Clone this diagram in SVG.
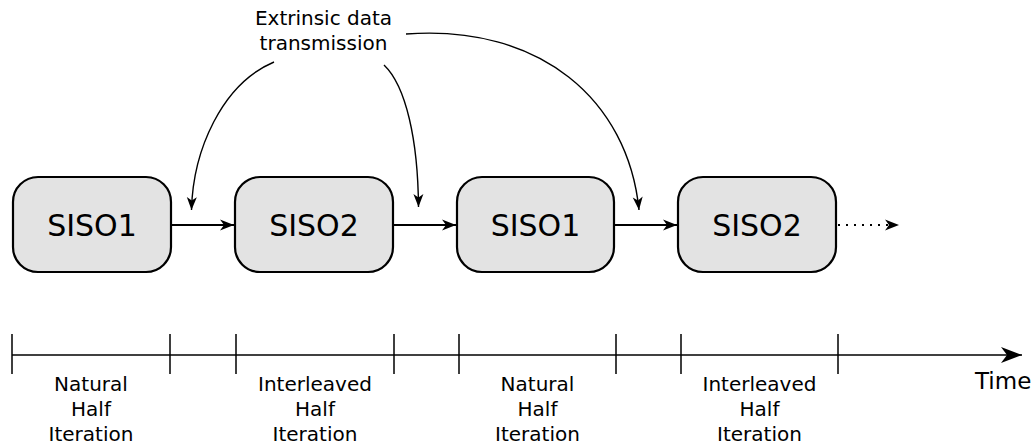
<svg xmlns="http://www.w3.org/2000/svg" width="1035" height="447" viewBox="0 0 1035 447">
<defs>
<style>
.box{fill:#e3e3e3;stroke:#000;stroke-width:2.2}
.lbl{font-family:"DejaVu Sans",sans-serif;font-size:30px;text-anchor:middle;fill:#000}
.txt{font-family:"DejaVu Sans",sans-serif;font-size:20px;text-anchor:middle;fill:#000}
.flow{fill:none;stroke:#000;stroke-width:2.2}
.curve{fill:none;stroke:#000;stroke-width:1.4}
.axis{fill:none;stroke:#000;stroke-width:1.5}
</style>
<marker id="ah" markerUnits="userSpaceOnUse" markerWidth="18" markerHeight="14" viewBox="-16 -7 18 14" refX="0" refY="0" orient="auto">
<path d="M0,0 L-14,-5.5 L-10,0 L-14,5.5 Z" fill="#000"/>
</marker>
<marker id="ahs" markerUnits="userSpaceOnUse" markerWidth="16" markerHeight="14" viewBox="-14 -7 16 14" refX="0" refY="0" orient="auto">
<path d="M0,0 L-13,-5 L-9.5,0 L-13,5 Z" fill="#000"/>
</marker>
<marker id="ahl" markerUnits="userSpaceOnUse" markerWidth="24" markerHeight="18" viewBox="-22 -9 24 18" refX="0" refY="0" orient="auto">
<path d="M0,0 L-21,-8 L-15,0 L-21,8 Z" fill="#000"/>
</marker>
</defs>
<g id="connectors">
<path class="flow" d="M171,225 H234" marker-end="url(#ah)"/>
<path class="flow" d="M393,225 H456" marker-end="url(#ah)"/>
<path class="flow" d="M614,225 H677" marker-end="url(#ah)"/>
<path class="flow" d="M838,225 H899" stroke-dasharray="2,6" marker-end="url(#ah)"/>
<path class="curve" d="M274,62 C222,84 193,150 191.5,210" marker-end="url(#ahs)"/>
<path class="curve" d="M384,65 C406,86 418,140 418.5,207" marker-end="url(#ahs)"/>
<path class="curve" d="M406,34 C540,24 628,100 639,210" marker-end="url(#ahs)"/>
</g>
<g id="label-extrinsic">
<text class="txt" x="323.5" y="25">Extrinsic data</text>
<text class="txt" x="323.5" y="50">transmission</text>
</g>
<g id="node-siso1a">
<rect class="box" x="13" y="177" width="158" height="95" rx="25" ry="25"/>
<text class="lbl" x="92" y="236">SISO1</text>
</g>
<g id="node-siso2a">
<rect class="box" x="235" y="177" width="158" height="95" rx="25" ry="25"/>
<text class="lbl" x="314" y="236">SISO2</text>
</g>
<g id="node-siso1b">
<rect class="box" x="457" y="177" width="157" height="95" rx="25" ry="25"/>
<text class="lbl" x="535.5" y="236">SISO1</text>
</g>
<g id="node-siso2b">
<rect class="box" x="678" y="177" width="158" height="95" rx="25" ry="25"/>
<text class="lbl" x="757" y="236">SISO2</text>
</g>
<g id="timeline">
<path class="axis" d="M12,355 H1022" marker-end="url(#ahl)"/>
<path class="axis" d="M12,334 V374 M170,334 V374 M236,334 V374 M394,334 V374 M459,334 V374 M616,334 V374 M681,334 V374 M838,334 V374"/>
<text x="975" y="389" style="font-family:'DejaVu Sans',sans-serif;font-size:23px;fill:#000">Time</text>
</g>
<g id="label-nat1">
<text class="txt" x="91" y="391">Natural</text>
<text class="txt" x="91" y="416">Half</text>
<text class="txt" x="91" y="441">Iteration</text>
</g>
<g id="label-int1">
<text class="txt" x="315" y="391">Interleaved</text>
<text class="txt" x="315" y="416">Half</text>
<text class="txt" x="315" y="441">Iteration</text>
</g>
<g id="label-nat2">
<text class="txt" x="537.5" y="391">Natural</text>
<text class="txt" x="537.5" y="416">Half</text>
<text class="txt" x="537.5" y="441">Iteration</text>
</g>
<g id="label-int2">
<text class="txt" x="759.5" y="391">Interleaved</text>
<text class="txt" x="759.5" y="416">Half</text>
<text class="txt" x="759.5" y="441">Iteration</text>
</g>
</svg>
